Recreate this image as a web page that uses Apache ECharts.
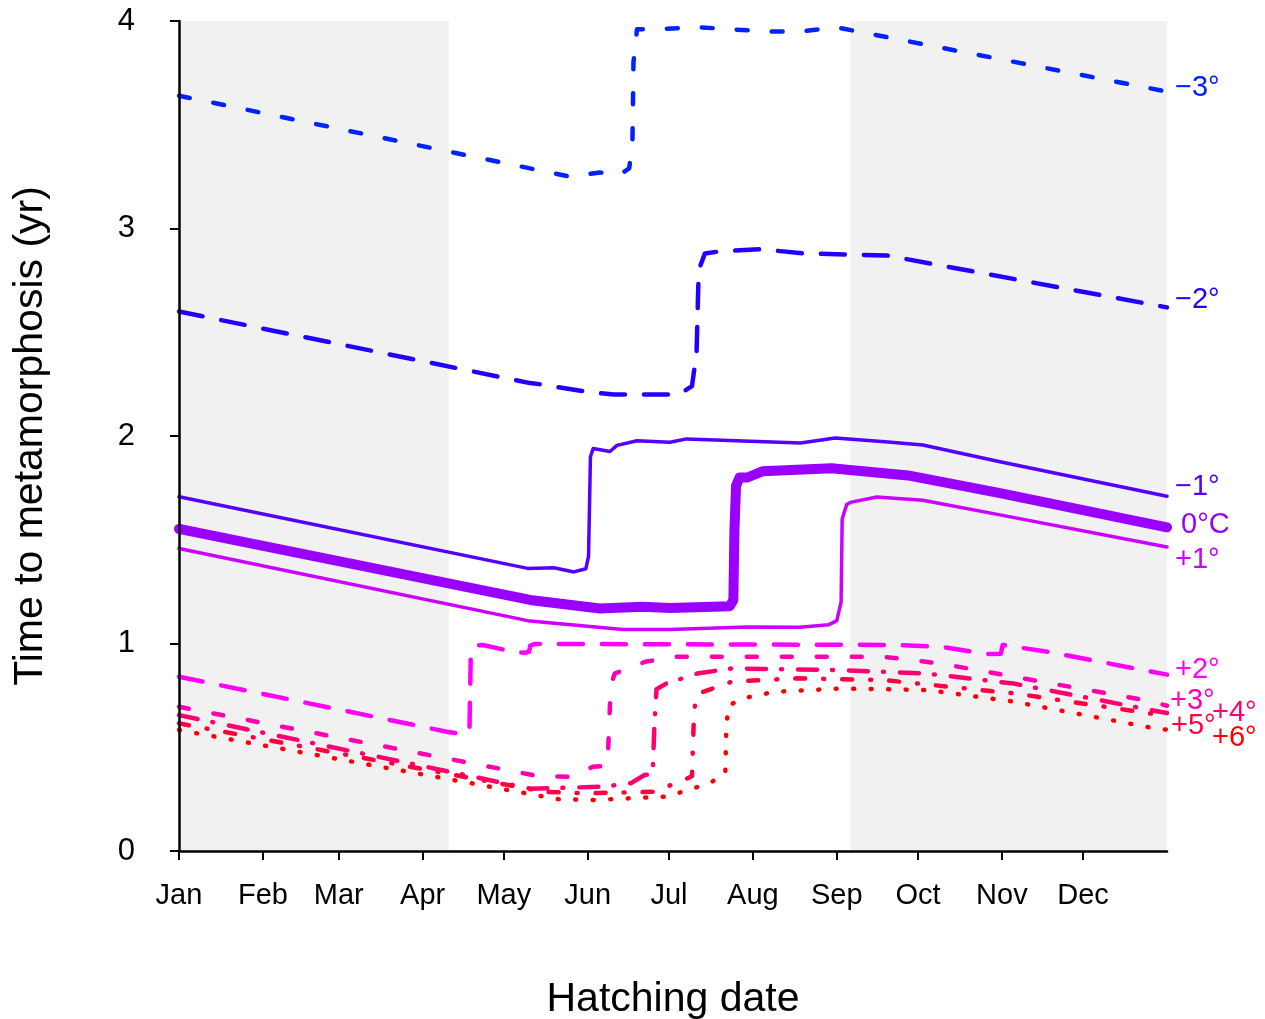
<!DOCTYPE html>
<html>
<head>
<meta charset="utf-8">
<script src="https://cdn.jsdelivr.net/npm/echarts@6/dist/echarts.min.js"></script>
<style>
  html, body { margin: 0; padding: 0; background: #fff; }
  #meta_chart { width: 1265px; height: 1019px; }
</style>
</head>
<body>
<div id="meta_chart"></div>
<script>
// day of year (0 = 1 Jan) vs time to metamorphosis (yr)
var monthStarts = [0, 31, 59, 90, 120, 151, 181, 212, 243, 273, 304, 334];
var monthNames = ["Jan", "Feb", "Mar", "Apr", "May", "Jun", "Jul", "Aug", "Sep", "Oct", "Nov", "Dec"];
var yTicks = [0, 1, 2, 3, 4];
var shadeRanges = [[0, 99.7], [248, 365]];

var seriesNames = ["−3°", "−2°", "−1°", "0°C", "+1°", "+2°", "+3°", "+4°", "+5°", "+6°"];

var minus3 = [[0, 3.64], [144.4, 3.25], [155.5, 3.27], [162.9, 3.26], [166.3, 3.29], [167.5, 3.40], [167.9, 3.80], [169.2, 3.96], [176, 3.96], [192, 3.97], [216, 3.95], [230, 3.95], [242.6, 3.97], [365, 3.66]];
var minus2 = [[0, 2.60], [129.7, 2.255], [133, 2.25], [152.2, 2.21], [160.7, 2.20], [184.7, 2.20], [189.5, 2.24], [191.2, 2.40], [192, 2.80], [194.3, 2.88], [200, 2.89], [215, 2.90], [231, 2.88], [261.5, 2.87], [365, 2.62]];
var minus1 = [[0, 1.707], [128.8, 1.362], [138.5, 1.365], [145.9, 1.345], [150.3, 1.36], [151.3, 1.42], [152, 1.90], [153, 1.94], [159.2, 1.925], [161.8, 1.955], [169.2, 1.977], [181.4, 1.97], [187.5, 1.986], [229.6, 1.966], [242.4, 1.99], [260.8, 1.972], [274.8, 1.957], [303.3, 1.876], [365, 1.71]];
var zero = [[0, 1.552], [129.7, 1.21], [155.5, 1.169], [171.3, 1.177], [181.4, 1.171], [203.5, 1.18], [204.8, 1.21], [205.2, 1.55], [205.8, 1.76], [207.1, 1.80], [210, 1.80], [215.5, 1.83], [241, 1.845], [269.3, 1.81], [303.3, 1.725], [365, 1.56]];
var plus1 = [[0, 1.458], [129.7, 1.108], [164, 1.068], [181.4, 1.068], [210, 1.08], [229.4, 1.078], [240, 1.09], [243, 1.11], [244.6, 1.2], [245, 1.6], [245.7, 1.63], [246.7, 1.67], [248, 1.68], [257.8, 1.706], [274.8, 1.69], [303.3, 1.62], [365, 1.465]];
var plus2 = [[0, 0.84], [98.9, 0.575], [104.9, 0.564], [107.3, 0.58], [107.8, 0.95], [109.5, 0.99], [112.3, 0.993], [123.4, 0.96], [127.5, 0.955], [129.3, 0.96], [129.8, 0.99], [131.5, 0.998], [263.4, 0.993], [281.1, 0.985], [298.9, 0.949], [303.6, 0.95], [304.3, 0.993], [321, 0.96], [365, 0.85]];
var plus3 = [[0, 0.695], [132.3, 0.362], [144.4, 0.357], [152.9, 0.406], [158.3, 0.41], [158.9, 0.6], [159.5, 0.80], [161, 0.855], [172.2, 0.912], [183.3, 0.936], [212.2, 0.936], [260.2, 0.936], [281.1, 0.904], [308.3, 0.84], [356.4, 0.728], [365, 0.70]];
var plus4 = [[0, 0.655], [130, 0.30], [157, 0.31], [167, 0.327], [172, 0.366], [175, 0.37], [175.6, 0.6], [176.4, 0.78], [180, 0.807], [191.4, 0.855], [204.2, 0.88], [244.2, 0.872], [276.3, 0.855], [308.3, 0.807], [362.8, 0.67], [365, 0.665]];
var plus5 = [[0, 0.615], [135, 0.285], [150, 0.278], [175, 0.285], [185, 0.334], [189.5, 0.36], [190.1, 0.6], [190.8, 0.74], [192.1, 0.76], [204.2, 0.816], [228.2, 0.832], [260.2, 0.824], [308.3, 0.76], [362.8, 0.655], [365, 0.645]];
var plus6 = [[0, 0.583], [140, 0.25], [152.9, 0.246], [180.1, 0.262], [196, 0.326], [201.8, 0.374], [202.2, 0.60], [203, 0.70], [208, 0.735], [220, 0.767], [244.2, 0.783], [276.3, 0.776], [308.3, 0.72], [361, 0.59], [365, 0.585]];

var seriesData = [minus3, minus2, minus1, zero, plus1, plus2, plus3, plus4, plus5, plus6];
var colors = ["#0022ff", "#2200ff", "#5500ff", "#9900ff", "#cc00ff", "#ff00ff", "#ff00b0", "#ff0070", "#ff0040", "#ff0000"];
var widths = [4.5, 4.5, 3.5, 10, 3.5, 4.5, 4.5, 4.5, 4.5, 4.5];
var dashes = [[11, 24], [24, 19], "solid", "solid", "solid", [24, 19], [10, 25], [19, 15, 1, 16], [10, 18, 1, 18], [1, 16.5]];
var labelOffsets = [[8, -4], [8, -7], [8, -9], [14, -2], [8, 13], [8, -5], [3, -5], [45, 0], [4, 9], [45, 8]];

var meta_chart = echarts.init(document.getElementById("meta_chart"));

var series = [
  {
    name: "bg",
    type: "line",
    z: 1,
    data: [],
    markArea: {
      silent: true,
      itemStyle: { color: "#f1f1f1" },
      data: shadeRanges.map(function (r) {
        return [{ xAxis: r[0] }, { xAxis: r[1] }];
      }),
    },
  },
];
seriesData.forEach(function (d, i) {
  series.push({
    name: seriesNames[i],
    type: "line",
    z: 3 + i,
    showSymbol: false,
    symbol: "none",
    data: d,
    lineStyle: {
      color: colors[i],
      width: widths[i],
      type: dashes[i],
      cap: "round",
      join: "round",
    },
    endLabel: {
      show: true,
      formatter: seriesNames[i],
      color: colors[i],
      fontSize: 29,
      fontFamily: "Liberation Sans, Arial, sans-serif",
      offset: labelOffsets[i],
      distance: 0,
    },
  });
});

var option = {
  animation: false,
  grid: { left: 179, right: 98, top: 21, bottom: 168, outerBoundsMode: "none", containLabel: false },
  xAxis: {
    type: "value",
    min: 0,
    max: 365,
    z: 20,
    name: "Hatching date",
    nameLocation: "middle",
    nameGap: 128,
    nameTextStyle: { fontSize: 41, color: "#000", fontFamily: "Liberation Sans, Arial, sans-serif" },
    axisLine: { show: true, onZero: false, lineStyle: { color: "#000", width: 2.5 } },
    axisTick: { show: true, length: 9, lineStyle: { color: "#000", width: 2 }, customValues: monthStarts },
    axisLabel: {
      customValues: monthStarts,
      margin: 30,
      fontSize: 29,
      color: "#000",
      fontFamily: "Liberation Sans, Arial, sans-serif",
      formatter: function (v) {
        return monthNames[monthStarts.indexOf(v)];
      },
    },
    splitLine: { show: false },
  },
  yAxis: {
    type: "value",
    min: 0,
    max: 4,
    interval: 1,
    z: 20,
    name: "Time to metamorphosis (yr)",
    nameLocation: "middle",
    nameGap: 128,
    nameTextStyle: { fontSize: 41, color: "#000", fontFamily: "Liberation Sans, Arial, sans-serif" },
    axisLine: { show: true, lineStyle: { color: "#000", width: 2.5 } },
    axisTick: { show: true, length: 9, lineStyle: { color: "#000", width: 2 } },
    axisLabel: {
      margin: 44,
      fontSize: 31,
      color: "#000",
      fontFamily: "Liberation Sans, Arial, sans-serif",
      formatter: function (v) {
        return yTicks.indexOf(v) >= 0 ? String(v) : "";
      },
    },
    splitLine: { show: false },
  },
  series: series,
};
meta_chart.setOption(option);
</script>
</body>
</html>
